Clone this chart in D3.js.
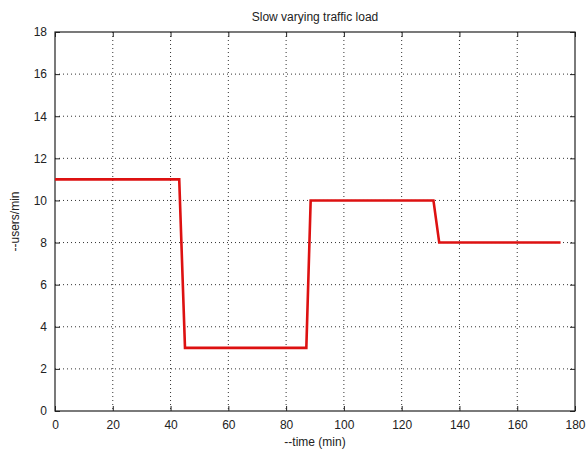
<!DOCTYPE html>
<html>
<head>
<meta charset="utf-8">
<script src="https://cdn.jsdelivr.net/npm/d3@7"></script>
<style>
body { margin: 0; background: #fff; }
svg text { font-family: "Liberation Sans", Arial, sans-serif; fill: #222; }
</style>
</head>
<body>
<svg id="chart" width="587" height="455"></svg>
<script>
const timeMin = [0, 43, 45, 87, 88.5, 131, 133, 175];
const usersPerMin = [11, 11, 3, 3, 10, 10, 8, 8];
const xTicks = [0, 20, 40, 60, 80, 100, 120, 140, 160, 180];
const yTicks = [0, 2, 4, 6, 8, 10, 12, 14, 16, 18];
const titleText = "Slow varying traffic load";
const xLabelText = "--time (min)";
const yLabelText = "--users/min";

const svg = d3.select("#chart");
const L = 55, R = 575, T = 32, B = 411;
const x = d3.scaleLinear().domain([0, 180]).range([L, R]);
const y = d3.scaleLinear().domain([0, 18]).range([B, T]);

svg.append("rect").attr("x", L).attr("y", T).attr("width", R - L).attr("height", B - T).attr("fill", "#fff");

// grid
const grid = svg.append("g");
grid.selectAll(".gx").data(xTicks.slice(1, -1)).enter().append("line")
  .attr("x1", d => x(d)).attr("x2", d => x(d)).attr("y1", T).attr("y2", B)
  .attr("stroke", "#333").attr("stroke-width", 1).attr("stroke-dasharray", "1,3");
grid.selectAll(".gy").data(yTicks.slice(1, -1)).enter().append("line")
  .attr("y1", d => y(d)).attr("y2", d => y(d)).attr("x1", L).attr("x2", R)
  .attr("stroke", "#333").attr("stroke-width", 1).attr("stroke-dasharray", "1,3");

// axes with inner ticks
const ax = d3.axisBottom(x).tickValues(xTicks).tickSizeInner(-5).tickSizeOuter(0).tickPadding(9);
const ay = d3.axisLeft(y).tickValues(yTicks).tickSizeInner(-5).tickSizeOuter(0).tickPadding(8);
const gx = svg.append("g").attr("transform", `translate(0,${B})`).call(ax);
const gy = svg.append("g").attr("transform", `translate(${L},0)`).call(ay);
const gxt = svg.append("g").attr("transform", `translate(0,${T})`).call(d3.axisTop(x).tickValues(xTicks).tickSizeInner(-5).tickSizeOuter(0).tickFormat(""));
const gyr = svg.append("g").attr("transform", `translate(${R},0)`).call(d3.axisRight(y).tickValues(yTicks).tickSizeInner(-5).tickSizeOuter(0).tickFormat(""));
[gx, gy, gxt, gyr].forEach(g => {
  g.select(".domain").remove();
  g.selectAll("line").attr("stroke", "#222");
  g.selectAll("text").attr("font-size", 12).attr("fill", "#222").attr("font-family", "Liberation Sans, Arial, sans-serif");
});

// box
svg.append("rect").attr("x", L).attr("y", T).attr("width", R - L).attr("height", B - T)
  .attr("fill", "none").attr("stroke", "#222").attr("stroke-width", 1.2);

// line
const pts = timeMin.map((t, i) => [t, usersPerMin[i]]);
svg.append("path").datum(pts)
  .attr("d", d3.line().x(d => x(d[0])).y(d => y(d[1])))
  .attr("fill", "none").attr("stroke", "#dd1111").attr("stroke-width", 2.6).attr("stroke-linejoin", "miter");

// labels
svg.append("text").attr("x", (L + R) / 2).attr("y", 21).attr("text-anchor", "middle").attr("font-size", 12).text(titleText);
svg.append("text").attr("x", (L + R) / 2).attr("y", 446).attr("text-anchor", "middle").attr("font-size", 12).text(xLabelText);
svg.append("text").attr("transform", `translate(19,${(T + B) / 2}) rotate(-90)`).attr("text-anchor", "middle").attr("font-size", 12).text(yLabelText);
</script>
</body>
</html>
